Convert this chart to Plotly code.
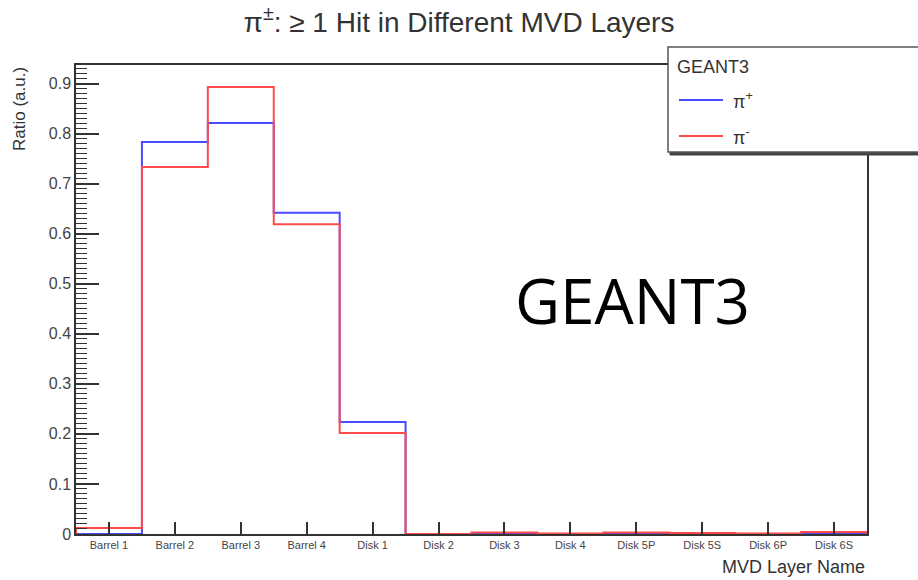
import plotly.graph_objects as go

categories = ["Barrel 1", "Barrel 2", "Barrel 3", "Barrel 4", "Disk 1", "Disk 2",
              "Disk 3", "Disk 4", "Disk 5P", "Disk 5S", "Disk 6P", "Disk 6S"]
pi_plus = [0.0, 0.783, 0.821, 0.642, 0.224, 0.0, 0.001, 0.0, 0.001, 0.001, 0.0, 0.002]
pi_minus = [0.012, 0.733, 0.893, 0.619, 0.202, 0.0, 0.003, 0.001, 0.003, 0.002, 0.001, 0.004]
series_names = ["π<sup>+</sup>", "π<sup>-</sup>"]
series_colors = ["#4a4aff", "#ff4a4a"]

y_ticks = [0, 0.1, 0.2, 0.3, 0.4, 0.5, 0.6, 0.7, 0.8, 0.9]
y_ticktext = ["0", "0.1", "0.2", "0.3", "0.4", "0.5", "0.6", "0.7", "0.8", "0.9"]


def step_xy(values):
    n = len(values)
    xs = [-0.5] + [i - 0.5 for i in range(n)] + [n - 0.5, n - 0.5]
    ys = [0] + list(values) + [values[-1], 0]
    return xs, ys


fig = go.Figure()
for vals, name, col in zip([pi_plus, pi_minus], series_names, series_colors):
    xs, ys = step_xy(vals)
    fig.add_trace(go.Scatter(x=xs, y=ys, mode="lines", line=dict(color=col, width=2, shape="hv"),
                             name=name, showlegend=False))

# plot area in pixels: x 76..867, y 65..534
L, R, T, B = 76, 867, 65, 534


def px(X):
    return (X - L) / (R - L)


def py(Y):
    return (B - Y) / (B - T)


fig.update_layout(
    width=918, height=580,
    margin=dict(l=L, r=918 - R, t=T, b=580 - B, autoexpand=False),
    paper_bgcolor="white", plot_bgcolor="white",
    font=dict(family="Liberation Sans, Arial, sans-serif", color="#333"),
    title=dict(text="π<sup>±</sup>: ≥ 1 Hit in Different MVD Layers", x=0.5, xanchor="center",
               y=1 - 22 / 580, yanchor="middle", font=dict(size=28, color="#333")),
    showlegend=False,
    xaxis=dict(
        range=[-0.5, len(categories) - 0.5],
        tickmode="array", tickvals=list(range(len(categories))), ticktext=categories,
        ticks="inside", ticklen=12, tickwidth=1.5, tickcolor="#333",
        tickfont=dict(size=11, color="#444"),
        showline=True, linecolor="#333", linewidth=1.5, mirror=True,
        showgrid=False, zeroline=False, automargin=False,
        fixedrange=True,
    ),
    yaxis=dict(
        range=[0, 0.937],
        tickmode="array", tickvals=y_ticks, ticktext=y_ticktext,
        ticks="inside", ticklen=23, tickwidth=1.5, tickcolor="#333",
        tickfont=dict(size=16, color="#444"),
        minor=dict(dtick=0.01, ticks="inside", ticklen=11, tickwidth=1.2, tickcolor="#333", showgrid=False),
        showline=True, linecolor="#333", linewidth=1.5, mirror=True,
        showgrid=False, zeroline=False, automargin=False,
        fixedrange=True,
    ),
)

# axis titles, ROOT style
fig.add_annotation(text="MVD Layer Name", xref="paper", yref="paper", x=1.0, y=py(567),
                   xanchor="right", yanchor="middle", showarrow=False,
                   font=dict(size=18, color="#333"))
fig.add_annotation(text="Ratio (a.u.)", xref="paper", yref="paper", x=px(19), y=1.0,
                   xanchor="center", yanchor="top", textangle=-90, showarrow=False,
                   font=dict(size=17, color="#333"))

# big label
fig.add_annotation(text="GEANT3", xref="paper", yref="paper", x=px(632), y=py(300),
                   xanchor="center", yanchor="middle", showarrow=False,
                   font=dict(family="Open Sans, sans-serif", size=62, color="black"))

# legend box with shadow
fig.add_shape(type="rect", xref="paper", yref="paper", x0=px(670), x1=px(940), y0=py(155), y1=py(49),
              line=dict(color="#444", width=1), fillcolor="#444", layer="above")
fig.add_shape(type="rect", xref="paper", yref="paper", x0=px(668), x1=px(935), y0=py(152), y1=py(47),
              line=dict(color="#555", width=1.5), fillcolor="white", layer="above")
fig.add_annotation(text="GEANT3", xref="paper", yref="paper", x=px(675), y=py(67),
                   xanchor="left", yanchor="middle", showarrow=False,
                   font=dict(size=18, color="#333"))
leg_y = [100, 136]
for name, col, yy in zip(series_names, series_colors, leg_y):
    fig.add_shape(type="line", xref="paper", yref="paper", x0=px(679), x1=px(723), y0=py(yy), y1=py(yy),
                  line=dict(color=col, width=2), layer="above")
    fig.add_annotation(text=name, xref="paper", yref="paper", x=px(731), y=py(yy),
                       xanchor="left", yanchor="middle", showarrow=False,
                       font=dict(size=18, color="#333"))

fig.write_html("out.html", config={"displayModeBar": False},
               post_script="document.body.style.margin='0px';document.body.style.overflow='hidden';")
